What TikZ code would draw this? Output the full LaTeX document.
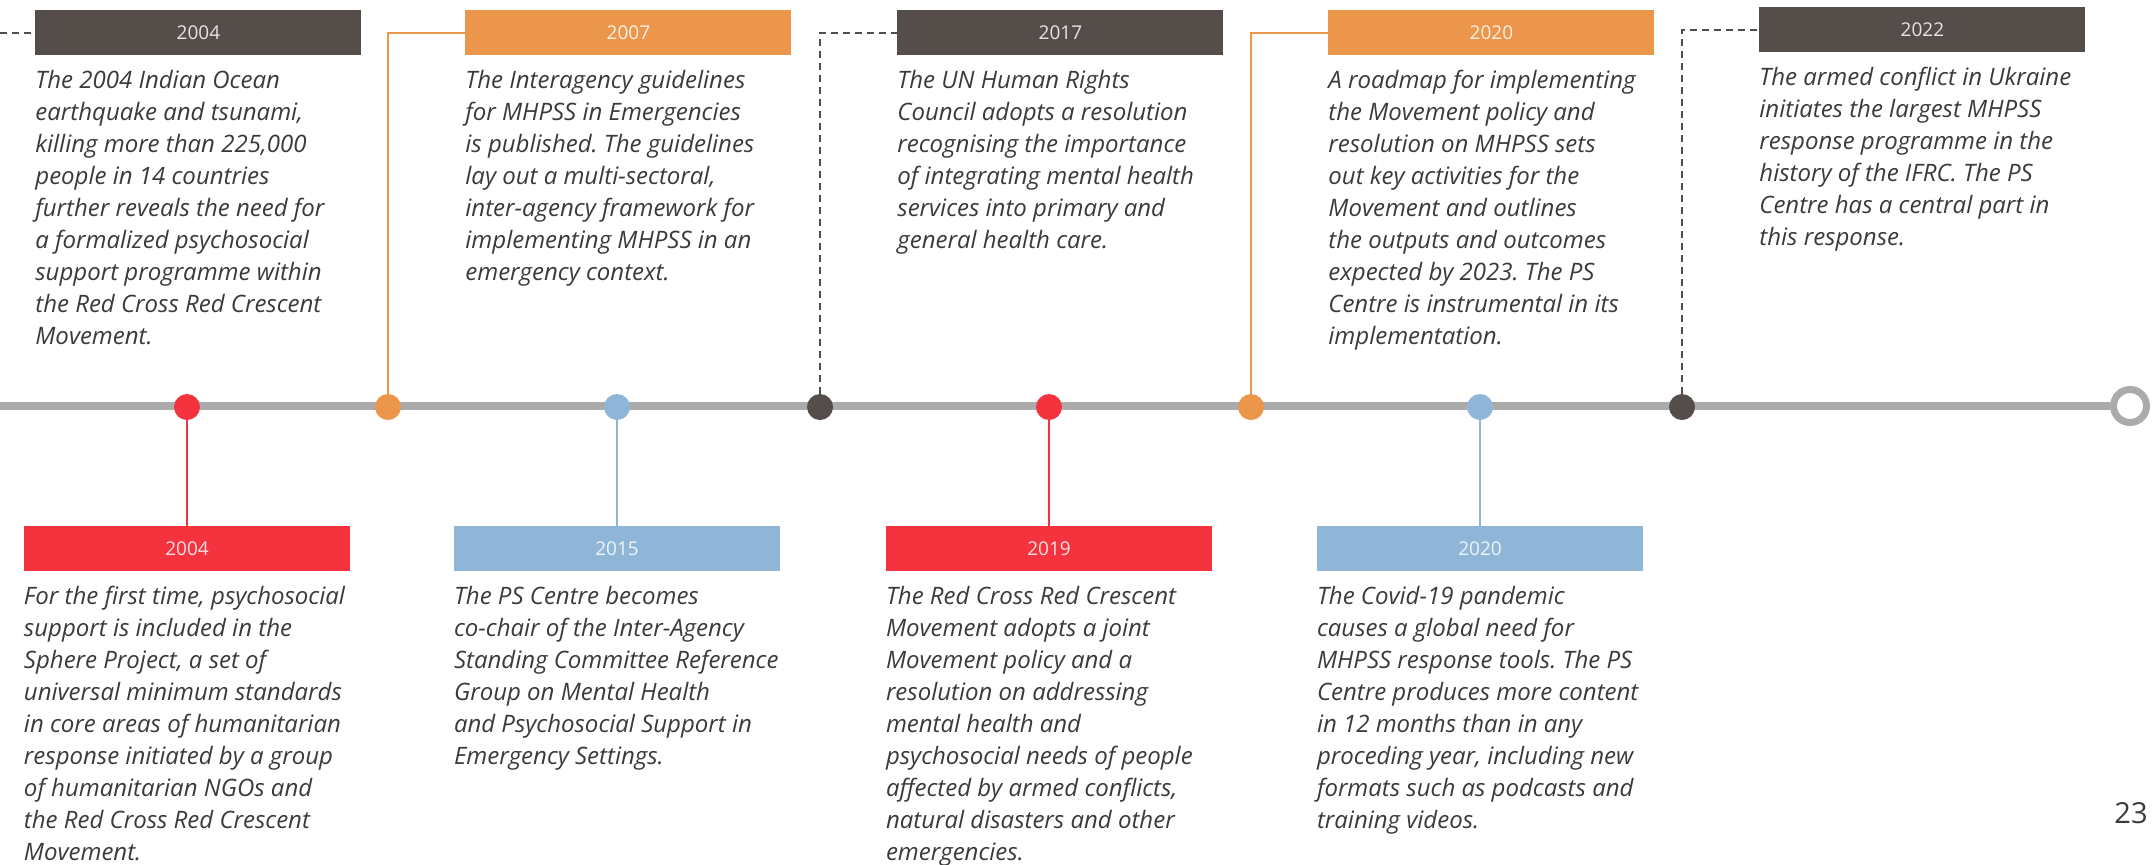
\documentclass[tikz,border=0pt]{standalone}
\usepackage{fontspec}
\setmainfont{Open Sans}
\usetikzlibrary{positioning}
\frenchspacing

\definecolor{darkbrown}{HTML}{554D4A}
\definecolor{ifrcorange}{HTML}{EB964A}
\definecolor{ifrcred}{HTML}{F5333F}
\definecolor{ifrcblue}{HTML}{8FB6D7}
\definecolor{linegray}{HTML}{ABABAB}
\definecolor{textgray}{HTML}{3A3A3A}

\tikzset{
  yearbox/.style={rectangle, inner sep=0pt, minimum width=163pt, minimum height=22.5pt,
    text=white, text opacity=.85, font=\fontsize{9.5}{11}\selectfont},
  evdot/.style={circle, inner sep=0pt, minimum size=13pt},
  evtext/.style={inner sep=0pt, align=left, text=textgray,
    font=\fontsize{12}{16}\selectfont\itshape},
  linkline/.style={line width=1pt},
  dashlink/.style={line width=1pt, dash pattern=on 3.5pt off 2.5pt},
}

% #1 name, #2 dot x, #3 box y, #4 colour, #5 link style, #6 year, #7 text
\newcommand\topevent[7]{
  \node[evdot, fill=#4] (d#1) at (#2, 407) {};
  \node[yearbox, fill=#4, anchor=west] (b#1) at (#2 + 77, #3) {#6};
  \draw[#5, #4] (d#1.north) |- (b#1.west);
  \node[evtext, below right=7pt and 0pt of b#1.south west] (t#1) {#7};
}
% #1 name, #2 dot x, #3 colour, #4 year, #5 text
\newcommand\bottomevent[5]{
  \node[evdot, fill=#3] (d#1) at (#2, 407) {};
  \node[yearbox, fill=#3] (b#1) at (#2, 548.5) {#4};
  \draw[linkline, #3] (d#1.south) -- (b#1.north);
  \node[evtext, below right=7pt and 0pt of b#1.south west] (t#1) {#5};
}

\begin{document}
\begin{tikzpicture}[x=0.5pt, y=-0.5pt]
    \useasboundingbox (0, 0) rectangle (2156, 864);
    % the time line
    \node[circle, draw=linegray, line width=3.5pt, fill=white, minimum size=16.5pt,
      inner sep=0pt] (lineend) at (2130, 406) {};
    \coordinate (linestart) at (0, 406);
    \draw[linegray, line width=4pt] (linestart) -- (lineend.west);
    % first event, coming from the previous page
    \coordinate (offpage) at (0, 32.5);
    \node[yearbox, fill=darkbrown, anchor=west] (bquake) at (35, 32.5) {2004};
    \draw[dashlink, darkbrown] (offpage) -- (bquake.west);
    \node[evtext, below right=7pt and 0pt of bquake.south west] (tquake)
      {The 2004 Indian Ocean\\earthquake and tsunami,\\killing more than 225,000\\
       people in 14 countries\\further reveals the need for\\a formalized psychosocial\\
       support programme within\\the Red Cross Red Crescent\\Movement.};
    % events below the line
    \bottomevent{sphere}{187}{ifrcred}{2004}
      {For the first time, psychosocial\\support is included in the\\Sphere Project, a set of\\
       universal minimum standards\\in core areas of humanitarian\\response initiated by a group\\
       of humanitarian NGOs and\\the Red Cross Red Crescent\\Movement.}
    \bottomevent{iasc}{617}{ifrcblue}{2015}
      {The PS Centre becomes\\co-chair of the Inter-Agency\\Standing Committee Reference\\
       Group on Mental Health\\and Psychosocial Support in\\Emergency Settings.}
    \bottomevent{policy}{1049}{ifrcred}{2019}
      {The Red Cross Red Crescent\\Movement adopts a joint\\Movement policy and a\\
       resolution on addressing\\mental health and\\psychosocial needs of people\\
       affected by armed conflicts,\\natural disasters and other\\emergencies.}
    \bottomevent{covid}{1480}{ifrcblue}{2020}
      {The Covid-19 pandemic\\causes a global need for\\MHPSS response tools. The PS\\
       Centre produces more content\\in 12 months than in any\\proceding year, including new\\
       formats such as podcasts and\\training videos.}
    % events above the line
    \topevent{guide}{388}{32.5}{ifrcorange}{linkline}{2007}
      {The Interagency guidelines\\for MHPSS in Emergencies\\is published. The guidelines\\
       lay out a multi-sectoral,\\inter-agency framework for\\implementing MHPSS in an\\
       emergency context.}
    \topevent{unhrc}{820}{32.5}{darkbrown}{dashlink}{2017}
      {The UN Human Rights\\Council adopts a resolution\\recognising the importance\\
       of integrating mental health\\services into primary and\\general health care.}
    \topevent{roadmap}{1251}{32.5}{ifrcorange}{linkline}{2020}
      {A roadmap for implementing\\the Movement policy and\\resolution on MHPSS sets\\
       out key activities for the\\Movement and outlines\\the outputs and outcomes\\
       expected by 2023. The PS\\Centre is instrumental in its\\implementation.}
    \topevent{ukraine}{1682}{29.5}{darkbrown}{dashlink}{2022}
      {The armed conflict in Ukraine\\initiates the largest MHPSS\\response programme in the\\
       history of the IFRC. The PS\\Centre has a central part in\\this response.}
    % page number
    \node[anchor=base east, inner sep=0pt, text=textgray,
      font=\fontsize{14.5}{17}\selectfont] (pagenum) at (2148, 823) {23};
\end{tikzpicture}
\end{document}
